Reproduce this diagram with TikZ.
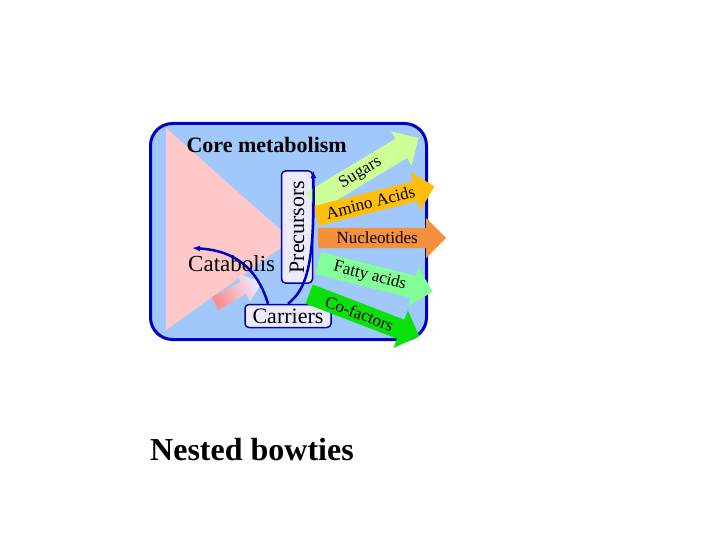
\documentclass[tikz,border=0pt]{standalone}
\usepackage{fontspec}
\setmainfont{Liberation Serif}
\usetikzlibrary{shapes.arrows,arrows.meta}
\definecolor{bg}{RGB}{160,200,250}
\definecolor{pk}{RGB}{255,200,200}
\definecolor{c1}{RGB}{205,255,150}
\definecolor{c2}{RGB}{255,190,10}
\definecolor{c3}{RGB}{245,145,60}
\definecolor{c4}{RGB}{130,255,150}
\definecolor{c5}{RGB}{10,225,10}
\begin{document}
\begin{tikzpicture}[x=1pt,y=-1pt,
  flow/.style={single arrow, single arrow head extend=6pt, single arrow head indent=0pt, minimum height=#1, minimum width=40pt, inner sep=0pt, anchor=west, font=\fontsize{17}{17}\selectfont},
  lbl/.style={draw=blue!70!black, line width=1.5pt, rounded corners=4pt, fill=blue!8, inner sep=1pt},
  conn/.style={draw=blue!75!black, line width=2.5pt, -{Latex[length=8pt]}}]
\useasboundingbox (0,0) rectangle (720,540);
\node[draw=blue!75!black, line width=3pt, fill=bg, rounded corners=22pt, minimum width=276pt, minimum height=216pt] (box) at (288.5,231.5) {};
\fill[pk] (166,128) coordinate (t1) -- (292,240) coordinate (t2) -- (166,330) coordinate (t3) -- cycle;
\node[anchor=west, font=\bfseries\fontsize{22}{22}\selectfont] (core) at (183,145) {Core metabolism};
\node[anchor=west, font=\fontsize{23}{23}\selectfont, inner sep=0pt] (cat) at (188,264) {Catabolis};
\shade[left color=red!45, right color=blue!8, shading angle=120] (212,297) -- (240,282) -- (238,274) -- (262,282) -- (250,302) -- (246,294) -- (218,310) -- cycle;
\node[lbl, rotate=90, minimum width=112pt, minimum height=31pt, font=\fontsize{22}{22}\selectfont] (prec) at (297,227) {Precursors};
\node[lbl, minimum width=86pt, minimum height=23pt, font=\fontsize{22}{22}\selectfont] (carr) at (288,316) {Carriers};
\node[flow=124pt, fill=c1, rotate=31] (sug) at (312,202) {Sugars};
\node[flow=122pt, fill=c2, rotate=14] (ami) at (316,216) {Amino Acids};
\node[flow=128pt, fill=c3] (nuc) at (318,238) {Nucleotides};
\node[flow=118pt, fill=c4, rotate=-14] (fat) at (318,263) {Fatty acids};
\node[flow=118pt, fill=c5, rotate=-21] (cof) at (309,294) {Co-factors};
\coordinate (catend) at (192,248);
\draw[conn] ([xshift=-20pt]carr.north) .. controls (255,260) and (225,250) .. (catend);
\draw[conn] (carr.north) .. controls (305,290) and (315,270) .. (prec.south east);
\node[font=\bfseries\fontsize{32}{32}\selectfont] (title) at (252,450) {Nested bowties};
\end{tikzpicture}
\end{document}
